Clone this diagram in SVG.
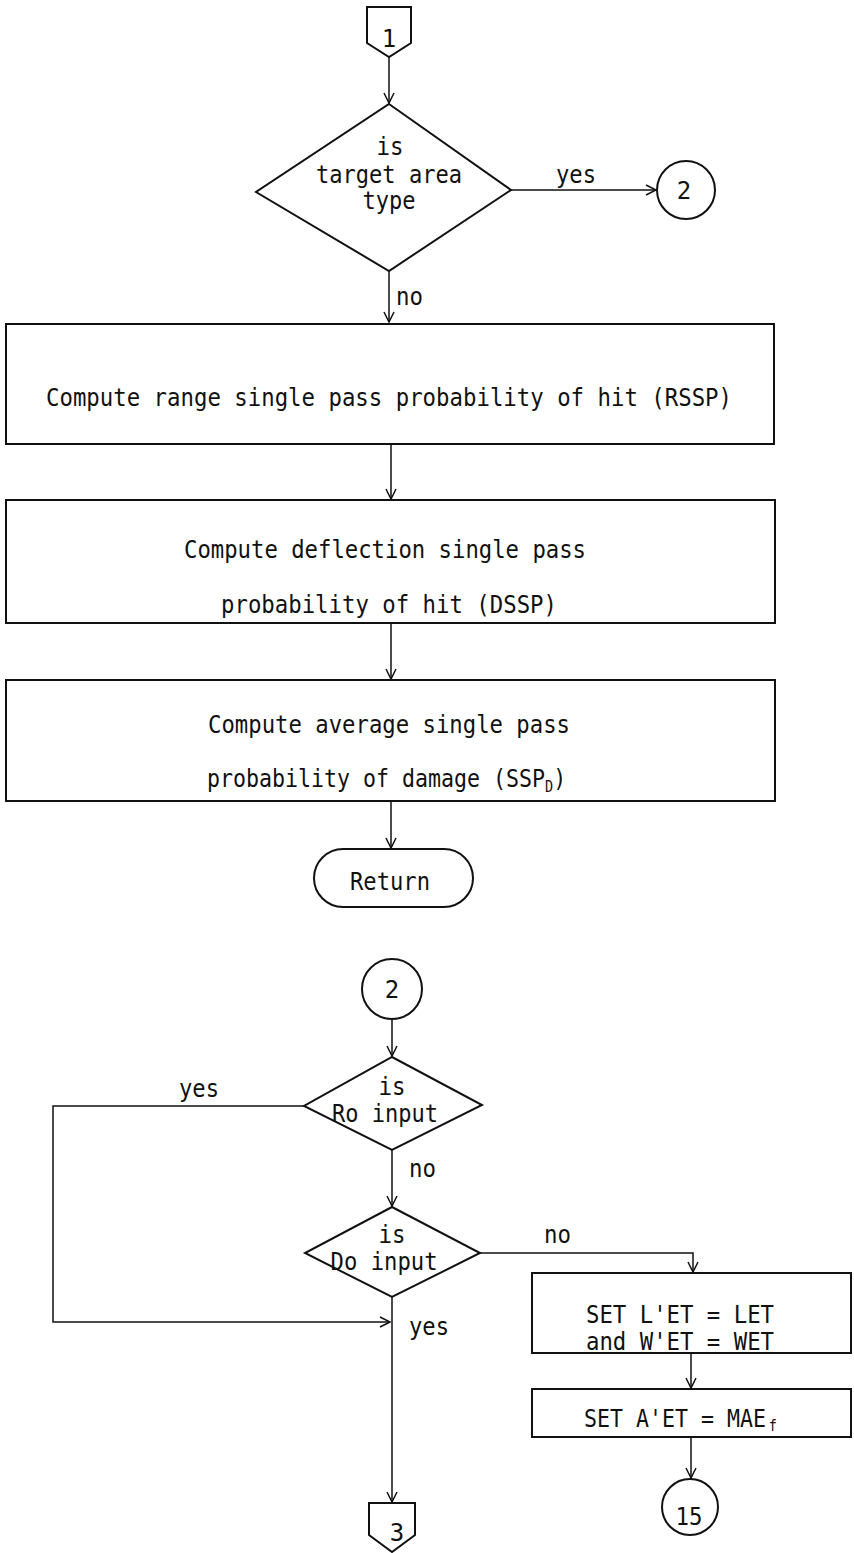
<svg xmlns="http://www.w3.org/2000/svg" width="854" height="1553" viewBox="0 0 854 1553">
  <style>
    .shape { fill: none; stroke: #111; stroke-width: 2; }
    .line { fill: none; stroke: #111; stroke-width: 1.5; }
    .t { font-family: "DejaVu Sans Mono", "Liberation Mono", monospace; font-size: 24px; fill: #111; stroke: none; }
    .c { text-anchor: middle; }
    .sub { font-size: 15px; }
  </style>
  <defs>
    <marker id="arrow" markerUnits="userSpaceOnUse" markerWidth="14" markerHeight="14" viewBox="-12 -7 14 14" refX="0" refY="0" orient="auto">
      <path d="M-10,-5 L0,0 L-10,5" fill="none" stroke="#111" stroke-width="1.5"/>
    </marker>
  </defs>
  <rect width="854" height="1553" fill="#fff"/>

  <!-- connectors and their branch labels -->
  <g id="connectors" class="line">
    <path d="M389,57 V103" marker-end="url(#arrow)"/>
    <path d="M511,190 H656" marker-end="url(#arrow)"/>
    <path d="M389,271 V322" marker-end="url(#arrow)"/>
    <path d="M391,444 V499" marker-end="url(#arrow)"/>
    <path d="M391,623 V679" marker-end="url(#arrow)"/>
    <path d="M391,801 V848" marker-end="url(#arrow)"/>
    <path d="M392,1019 V1056" marker-end="url(#arrow)"/>
    <path d="M392,1150 V1206" marker-end="url(#arrow)"/>
    <path d="M304,1106 H53 V1322 H390" marker-end="url(#arrow)"/>
    <path d="M392,1297 V1502" marker-end="url(#arrow)"/>
    <path d="M480,1253 H693 V1272" marker-end="url(#arrow)"/>
    <path d="M691,1353 V1388" marker-end="url(#arrow)"/>
    <path d="M691,1437 V1478" marker-end="url(#arrow)"/>
    <text class="t" x="556" y="183" textLength="40" lengthAdjust="spacingAndGlyphs">yes</text>
    <text class="t" x="396" y="305" textLength="27" lengthAdjust="spacingAndGlyphs">no</text>
    <text class="t" x="179" y="1097" textLength="40" lengthAdjust="spacingAndGlyphs">yes</text>
    <text class="t" x="409" y="1177" textLength="27" lengthAdjust="spacingAndGlyphs">no</text>
    <text class="t" x="409" y="1335" textLength="40" lengthAdjust="spacingAndGlyphs">yes</text>
    <text class="t" x="544" y="1243" textLength="27" lengthAdjust="spacingAndGlyphs">no</text>
  </g>

  <!-- off-page connector 1 -->
  <g id="conn1">
    <polygon class="shape" points="367,7 411,7 411,43 389,57 367,43"/>
    <text class="t c" x="389" y="47">1</text>
  </g>

  <!-- decision: target area type -->
  <g id="dec-area">
    <polygon class="shape" points="389,104 511,190 389,271 256,192"/>
    <text class="t c" x="390" y="155" textLength="27" lengthAdjust="spacingAndGlyphs">is</text>
    <text class="t c" x="389" y="183" textLength="146" lengthAdjust="spacingAndGlyphs">target area</text>
    <text class="t c" x="389" y="209" textLength="53" lengthAdjust="spacingAndGlyphs">type</text>
  </g>

  <!-- on-page connector 2 (exit) -->
  <g id="conn2a">
    <circle class="shape" cx="686" cy="190" r="29"/>
    <text class="t c" x="684" y="199">2</text>
  </g>

  <!-- process boxes -->
  <g id="rssp">
    <rect class="shape" x="6" y="324" width="768" height="120"/>
    <text class="t c" x="389" y="406" textLength="686" lengthAdjust="spacingAndGlyphs">Compute range single pass probability of hit (RSSP)</text>
  </g>
  <g id="dssp">
    <rect class="shape" x="6" y="500" width="769" height="123"/>
    <text class="t c" x="385" y="558" textLength="402" lengthAdjust="spacingAndGlyphs">Compute deflection single pass</text>
    <text class="t c" x="389" y="613" textLength="336" lengthAdjust="spacingAndGlyphs">probability of hit (DSSP)</text>
  </g>
  <g id="sspd">
    <rect class="shape" x="6" y="680" width="769" height="121"/>
    <text class="t c" x="389" y="733" textLength="362" lengthAdjust="spacingAndGlyphs">Compute average single pass</text>
    <text class="t" transform="translate(207,787) scale(0.9,1)">probability of damage (SSP<tspan class="sub" dy="5">D</tspan><tspan dy="-5">)</tspan></text>
  </g>

  <!-- terminator -->
  <g id="return">
    <rect class="shape" x="314" y="849" width="159" height="58" rx="29" ry="29"/>
    <text class="t c" x="390" y="890" textLength="80" lengthAdjust="spacingAndGlyphs">Return</text>
  </g>

  <!-- on-page connector 2 (entry) -->
  <g id="conn2b">
    <circle class="shape" cx="392" cy="989" r="30"/>
    <text class="t c" x="392" y="998">2</text>
  </g>

  <!-- decision: Ro input -->
  <g id="dec-ro">
    <polygon class="shape" points="392,1057 482,1105 392,1150 304,1106"/>
    <text class="t c" x="392" y="1095" textLength="27" lengthAdjust="spacingAndGlyphs">is</text>
    <text class="t c" x="385" y="1122" textLength="106" lengthAdjust="spacingAndGlyphs">Ro input</text>
  </g>

  <!-- decision: Do input -->
  <g id="dec-do">
    <polygon class="shape" points="392,1207 480,1253 392,1297 305,1253"/>
    <text class="t c" x="392" y="1243" textLength="27" lengthAdjust="spacingAndGlyphs">is</text>
    <text class="t c" x="384" y="1270" textLength="107" lengthAdjust="spacingAndGlyphs">Do input</text>
  </g>

  <!-- set effective target dimensions -->
  <g id="set-lw">
    <rect class="shape" x="532" y="1273" width="319" height="80"/>
    <text class="t" x="586" y="1323" textLength="188" lengthAdjust="spacingAndGlyphs">SET L'ET = LET</text>
    <text class="t" x="586" y="1350" textLength="188" lengthAdjust="spacingAndGlyphs">and W'ET = WET</text>
  </g>
  <g id="set-a">
    <rect class="shape" x="532" y="1389" width="319" height="48"/>
    <text class="t" transform="translate(584,1427) scale(0.9,1)">SET A'ET = MAE<tspan class="sub" dx="3" dy="4">f</tspan></text>
  </g>

  <!-- on-page connector 15 -->
  <g id="conn15">
    <circle class="shape" cx="690" cy="1507" r="28"/>
    <text class="t c" x="689" y="1525" textLength="27" lengthAdjust="spacingAndGlyphs">15</text>
  </g>

  <!-- off-page connector 3 -->
  <g id="conn3">
    <polygon class="shape" points="369,1503 415,1503 415,1535 392,1552 369,1535"/>
    <text class="t c" x="397" y="1541">3</text>
  </g>
</svg>
